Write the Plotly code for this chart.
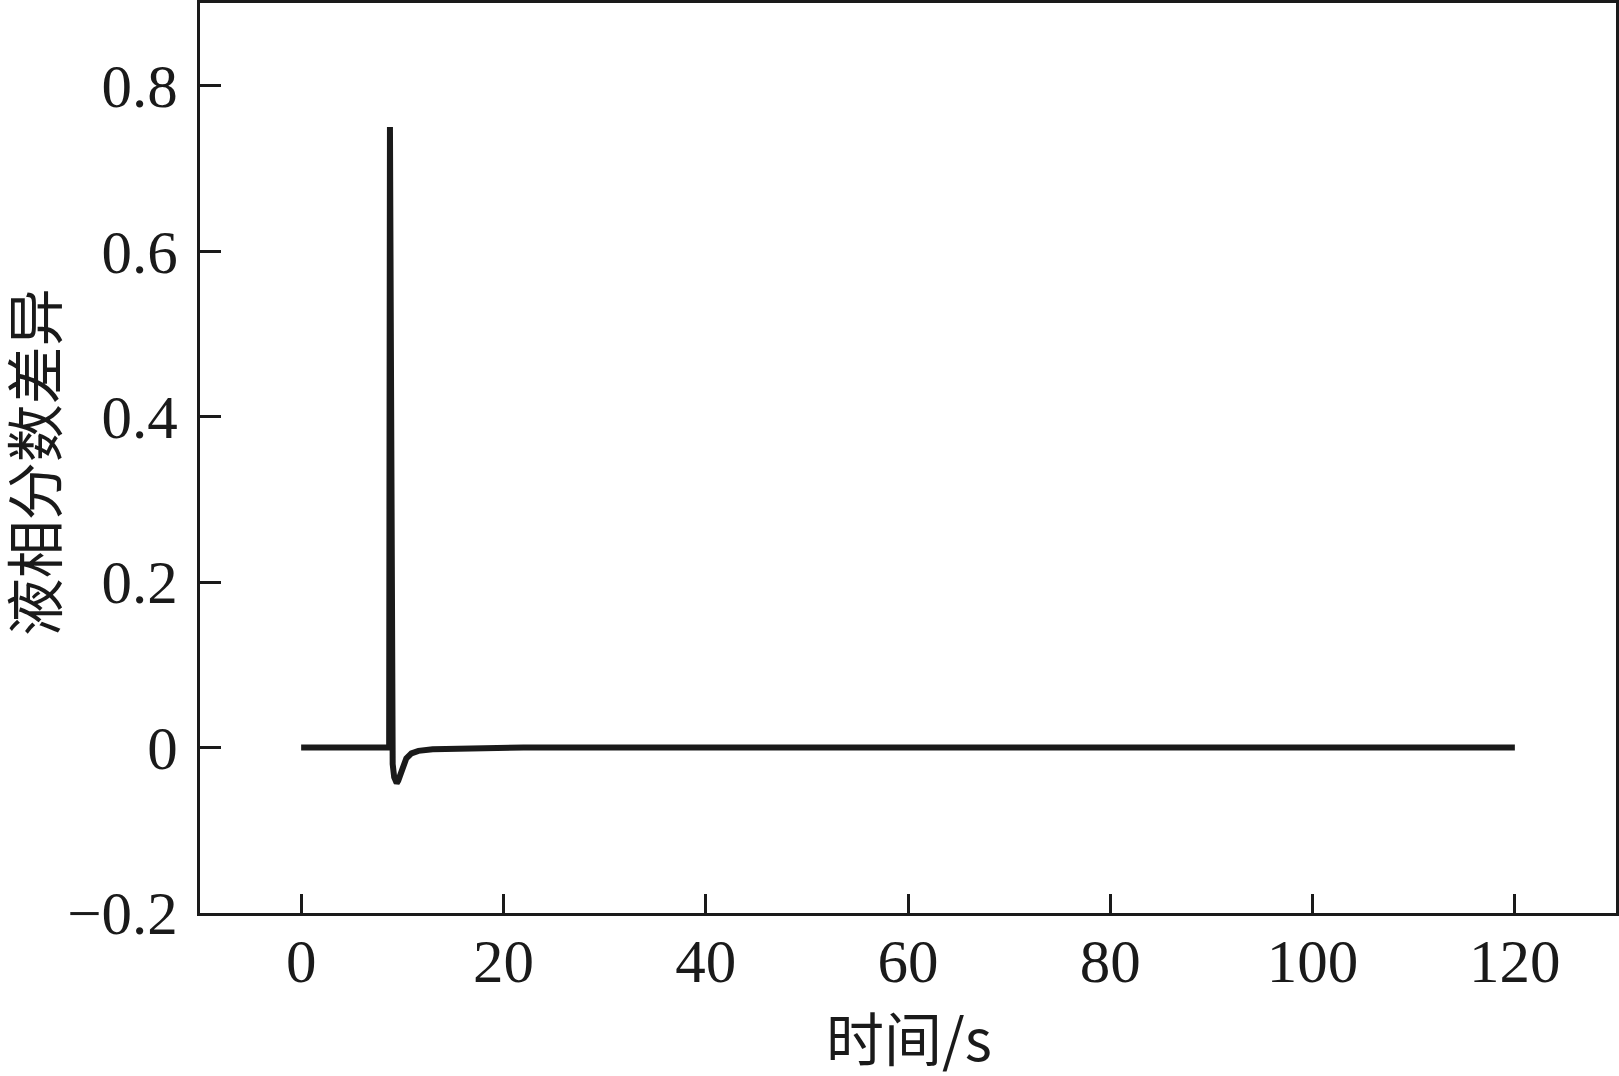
import plotly.graph_objects as go

# time (s) and liquid-fraction difference
time_s = [0, 8.7, 8.78, 8.9, 9.05, 9.2, 9.32, 9.45, 9.6, 9.8, 10.05, 10.4, 10.9, 11.6, 13, 16, 22, 120]
liquid_diff = [0, 0, 0.75, 0.06, -0.02, -0.036, -0.042, -0.043, -0.040, -0.033, -0.023, -0.013, -0.007, -0.004, -0.002, -0.001, 0, 0]

x_ticks = [0, 20, 40, 60, 80, 100, 120]
y_ticks = [-0.2, 0, 0.2, 0.4, 0.6, 0.8]
y_tick_text = ["\u22120.2", "0", "0.2", "0.4", "0.6", "0.8"]
x_title = "时间/s"
y_title = "液相分数差异"

fig = go.Figure()
fig.add_trace(go.Scatter(x=time_s, y=liquid_diff, mode="lines",
                         line=dict(color="#1a1a1a", width=6, shape="linear"),
                         showlegend=False))

tick_font = dict(family="Liberation Serif, Times New Roman, serif", size=61, color="#1a1a1a")
title_font = dict(family="Noto Sans CJK SC, Liberation Serif, serif", size=58, color="#1a1a1a")

fig.update_layout(
    width=1619, height=1076,
    margin=dict(l=200, r=3, t=3, b=163, autoexpand=False),
    paper_bgcolor="white", plot_bgcolor="white",
    xaxis=dict(range=[-10, 130], tickvals=x_ticks, ticks="inside", ticklen=19, tickwidth=2.5,
               tickcolor="#1a1a1a", showline=True, linewidth=3, linecolor="#1a1a1a", mirror=True,
               showgrid=False, zeroline=False, tickfont=tick_font, automargin=False,
               ticklabelstandoff=-7),
    yaxis=dict(range=[-0.2, 0.9], tickvals=y_ticks, ticktext=y_tick_text, ticks="inside", ticklen=21,
               tickwidth=2.5, tickcolor="#1a1a1a", showline=True, linewidth=3, linecolor="#1a1a1a",
               mirror=True, showgrid=False, zeroline=False, tickfont=tick_font, automargin=False,
               ticklabelstandoff=7),
    annotations=[
        dict(text=x_title, xref="paper", yref="paper", x=0.501, y=-0.135, showarrow=False,
             xanchor="center", yanchor="middle", font=title_font),
        dict(text=y_title, xref="paper", yref="paper", x=-0.119, y=0.496, showarrow=False,
             xanchor="center", yanchor="middle", textangle=-90, font=title_font),
    ],
)

fig.write_html("out.html", config={"displayModeBar": False},
               post_script="document.body.style.margin='0';document.body.style.overflow='hidden';")
